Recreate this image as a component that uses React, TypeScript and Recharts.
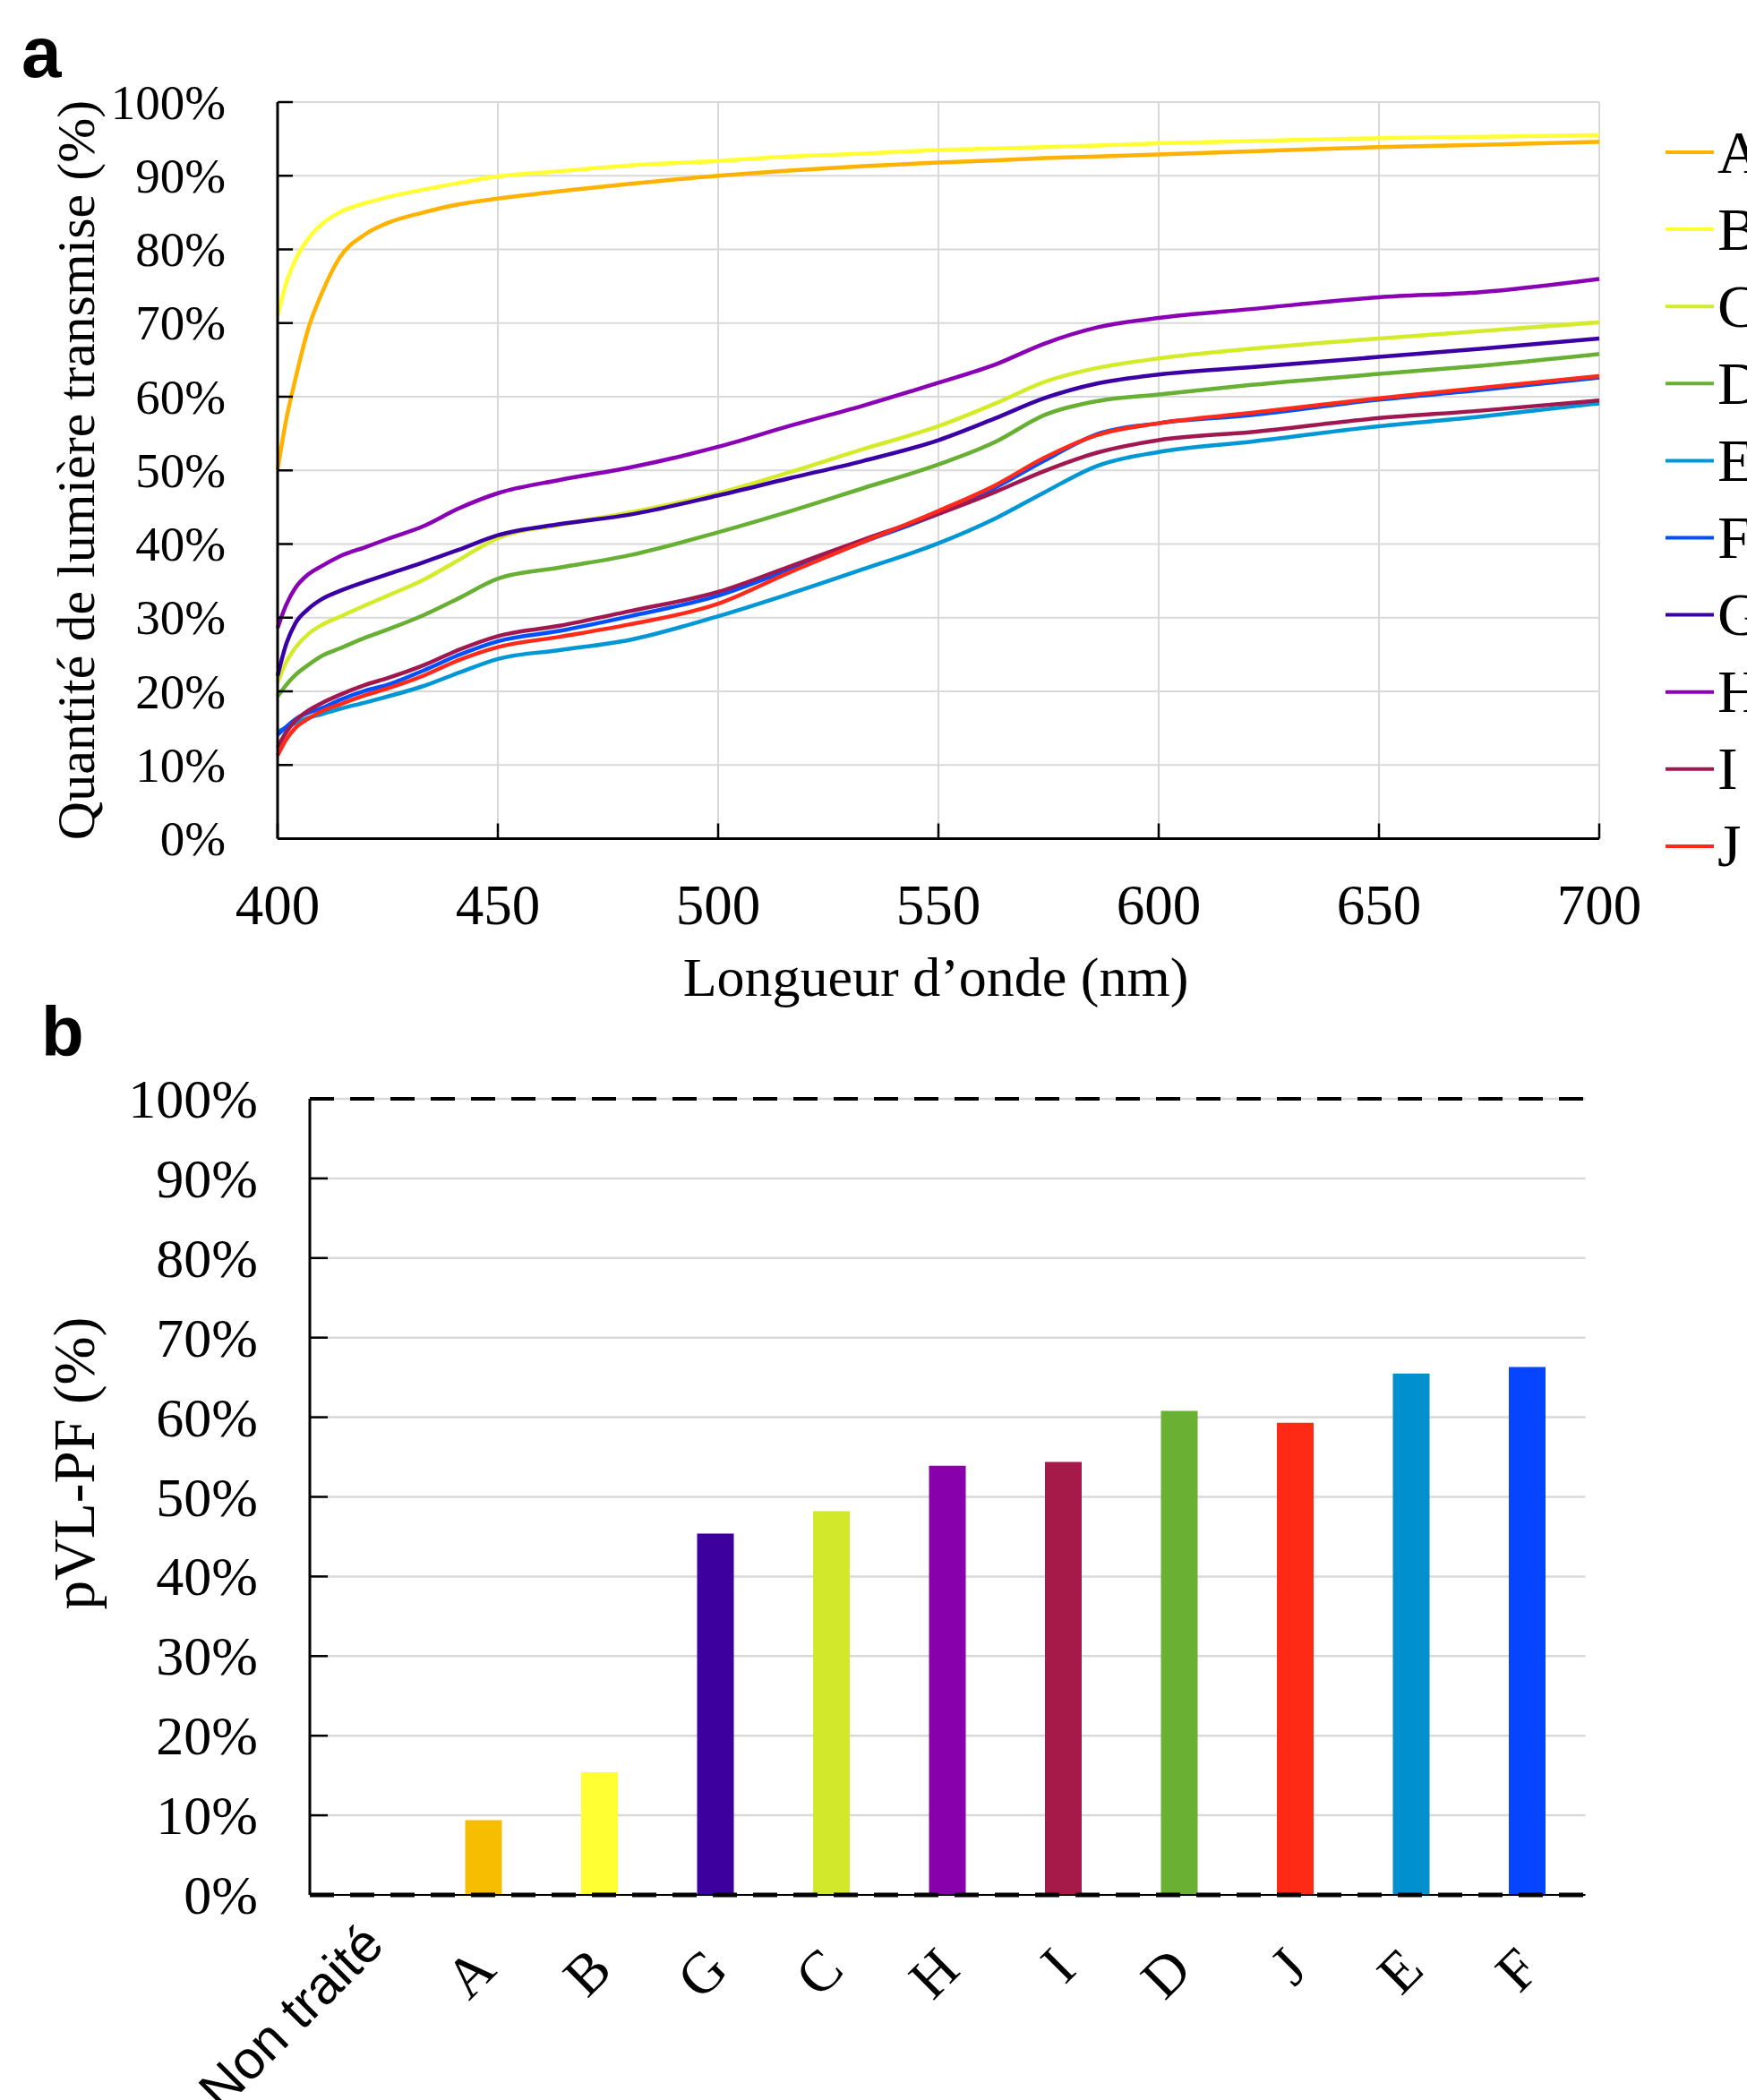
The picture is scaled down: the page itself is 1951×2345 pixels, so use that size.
import React from 'react';
import {
  LineChart, Line, XAxis, YAxis, CartesianGrid, Legend, Label,
  BarChart, Bar, Cell, ReferenceLine,
} from 'recharts';

const SERIF = '"Liberation Serif", "Times New Roman", serif';
const SANS = '"Liberation Sans", Arial, sans-serif';

// ---------- Panel a : transmission spectra ----------
const wavelengths = [400, 402, 404, 407, 410, 414, 420, 425, 433, 441, 450, 464, 480, 500, 516, 533, 550, 563, 574, 586, 600, 621, 650, 673, 700];

const seriesA = [50.1, 57.0, 62.3, 69.3, 74.0, 78.8, 82.1, 83.6, 85.0, 86.1, 86.9, 87.9, 88.9, 90.0, 90.7, 91.3, 91.8, 92.1, 92.4, 92.6, 92.9, 93.3, 93.9, 94.2, 94.6];
const seriesB = [71.0, 75.5, 78.5, 81.5, 83.4, 85.0, 86.3, 87.1, 88.1, 89.0, 89.9, 90.6, 91.4, 92.0, 92.6, 93.0, 93.5, 93.7, 93.9, 94.1, 94.4, 94.7, 95.1, 95.3, 95.5];
const seriesC = [21.2, 24.0, 25.9, 27.8, 29.0, 30.1, 31.7, 33.0, 35.1, 37.8, 40.8, 42.6, 44.3, 46.9, 49.7, 52.9, 56.0, 59.1, 62.0, 63.9, 65.2, 66.5, 67.9, 68.9, 70.1];
const seriesD = [19.3, 20.9, 22.2, 23.6, 24.8, 25.8, 27.3, 28.4, 30.3, 32.6, 35.3, 36.8, 38.5, 41.6, 44.4, 47.6, 50.8, 53.9, 57.5, 59.4, 60.3, 61.6, 63.1, 64.2, 65.8];
const seriesE = [14.5, 15.1, 15.7, 16.4, 16.9, 17.6, 18.5, 19.3, 20.7, 22.5, 24.4, 25.6, 27.0, 30.2, 33.2, 36.6, 40.1, 43.5, 47.0, 50.6, 52.5, 53.9, 56.0, 57.3, 59.1];
const seriesF = [14.1, 15.2, 16.2, 17.1, 17.7, 18.8, 20.1, 20.9, 22.8, 24.9, 26.8, 28.2, 30.2, 33.0, 36.5, 40.3, 44.1, 47.7, 51.3, 54.9, 56.4, 57.5, 59.6, 60.9, 62.6];
const seriesG = [22.1, 26.5, 29.2, 31.2, 32.5, 33.6, 34.9, 35.9, 37.5, 39.2, 41.2, 42.7, 44.0, 46.6, 48.9, 51.3, 54.1, 57.1, 59.8, 61.8, 63.0, 64.0, 65.4, 66.5, 67.9];
const seriesH = [28.6, 31.8, 34.0, 35.9, 37.0, 38.3, 39.6, 40.7, 42.4, 44.8, 46.9, 48.7, 50.4, 53.2, 56.0, 58.8, 61.9, 64.4, 67.2, 69.4, 70.7, 71.9, 73.5, 74.2, 76.0];
const seriesI = [12.4, 14.5, 16.0, 17.4, 18.4, 19.5, 20.9, 21.8, 23.5, 25.6, 27.5, 28.9, 30.9, 33.5, 36.9, 40.6, 44.1, 47.1, 49.9, 52.4, 54.1, 55.2, 57.1, 58.1, 59.5];
const seriesJ = [11.3, 13.5, 15.0, 16.3, 17.3, 18.2, 19.5, 20.4, 22.1, 24.2, 26.0, 27.4, 29.1, 31.9, 36.1, 40.3, 44.5, 48.0, 51.7, 54.8, 56.4, 57.8, 59.8, 61.2, 62.8];

const lineNames = ['A', 'B', 'C', 'D', 'E', 'F', 'G', 'H', 'I', 'J'];
const lineColors = ['#FFB300', '#FFFF33', '#D4EB2A', '#67B033', '#0097D6', '#0050FF', '#3A00A5', '#8A00B4', '#A11850', '#FF2A1A'];
const lineSeries = [seriesA, seriesB, seriesC, seriesD, seriesE, seriesF, seriesG, seriesH, seriesI, seriesJ];

const lineXTicks = [400, 450, 500, 550, 600, 650, 700];
const percentTicks = [0, 10, 20, 30, 40, 50, 60, 70, 80, 90, 100];

const lineData = wavelengths.map((nm, i) => {
  const row: Record<string, number> = { nm };
  lineNames.forEach((n, k) => { row[n] = lineSeries[k][i]; });
  return row;
});

// ---------- Panel b : pVL-PF bars ----------
const barCategories = ['Non traité', 'A', 'B', 'G', 'C', 'H', 'I', 'D', 'J', 'E', 'F'];
const barValues = [0, 9.4, 15.4, 45.4, 48.2, 53.9, 54.4, 60.8, 59.3, 65.5, 66.3];
const barColors = ['#FFFFFF', '#F7BD00', '#FFFF33', '#3D009E', '#D2E92B', '#8700AB', '#A61A4A', '#69B033', '#FF2A16', '#0090CE', '#0545FF'];

const barData = barCategories.map((name, i) => ({ name, value: barValues[i] }));

// ---------- geometry ----------
const A_LEFT = 310, A_RIGHT = 1786, A_TOP = 114, A_BOTTOM = 936.5, A_H = 1160;
const B_TOP_PAGE = 1100, B_H = 1245;
const B_LEFT = 346, B_RIGHT = 1770.5, B_TOP = 127, B_BOTTOM = 1016;
const AX = 1; // axis band thickness

const LineYTick = (props: any) => {
  const { x, y, payload } = props;
  return (
    <g>
      <line x1={x} x2={x + 17} y1={y} y2={y} stroke="#000" strokeWidth={2.5} />
      <text x={x - 58} y={y} textAnchor="end" dominantBaseline="central" fontFamily={SERIF} fontSize={55} fill="#000">
        {payload.value}%
      </text>
    </g>
  );
};

const LineXTick = (props: any) => {
  const { x, y, payload } = props;
  return (
    <g>
      <line x1={x} x2={x} y1={y} y2={y - 17} stroke="#000" strokeWidth={2.5} />
      <text x={x} y={y + 95.5} textAnchor="middle" fontFamily={SERIF} fontSize={63} fill="#000">
        {payload.value}
      </text>
    </g>
  );
};

const BarYTick = (props: any) => {
  const { x, y, payload } = props;
  return (
    <g>
      <line x1={x} x2={x + 20} y1={y} y2={y} stroke="#000" strokeWidth={2.5} />
      <text x={x - 58} y={y} textAnchor="end" dominantBaseline="central" fontFamily={SERIF} fontSize={62} fill="#000">
        {payload.value}%
      </text>
    </g>
  );
};

const BarXTick = (props: any) => {
  const { x, y, payload } = props;
  const sans = payload.value === 'Non traité';
  const px = sans ? x + 6 : x + 1;
  const py = sans ? y + 44 : y + 71;
  return (
    <text
      x={px}
      y={py}
      textAnchor="end"
      dominantBaseline="central"
      transform={`rotate(-45 ${px} ${py})`}
      fontFamily={sans ? SANS : SERIF}
      fontSize={sans ? 60 : 64}
      fill="#000"
    >
      {payload.value}
    </text>
  );
};

const renderLegend = (props: any) => {
  const items = props.payload || [];
  return (
    <svg width={95} height={900} style={{ display: 'block' }}>
      {items.map((it: any, i: number) => {
        const cy = 70 + i * 86.1;
        return (
          <g key={String(it.value)}>
            <line x1={4} x2={58} y1={cy} y2={cy} stroke={it.color} strokeWidth={4} />
            <text x={62} y={cy + 22.5} fontFamily={SERIF} fontSize={68} fill="#000">{it.value}</text>
          </g>
        );
      })}
    </svg>
  );
};

export default function App() {
  return (
    <div style={{ position: 'absolute', left: 0, top: 0, width: 1951, height: 2345, background: '#fff', overflow: 'hidden' }}>
      {/* Panel a */}
      <div style={{ position: 'absolute', left: 0, top: 0 }}>
        <LineChart
          width={1951}
          height={A_H}
          data={lineData}
          margin={{ top: A_TOP, right: 1951 - A_RIGHT, bottom: A_H - A_BOTTOM - AX, left: A_LEFT - AX }}
        >
          <CartesianGrid stroke="#D9D9D9" strokeWidth={2} />
          <XAxis
            dataKey="nm"
            type="number"
            domain={[400, 700]}
            ticks={lineXTicks}
            interval={0}
            height={AX}
            tickSize={0}
            tickMargin={0}
            tickLine={false}
            axisLine={{ stroke: '#000', strokeWidth: 3 }}
            tick={<LineXTick />}
          >
            <Label
              content={() => (
                <text x={(A_LEFT + A_RIGHT) / 2 - 3} y={1112} textAnchor="middle" fontFamily={SERIF} fontSize={62} fill="#000">
                  Longueur d’onde (nm)
                </text>
              )}
            />
          </XAxis>
          <YAxis
            type="number"
            domain={[0, 100]}
            ticks={percentTicks}
            interval={0}
            width={AX}
            tickSize={0}
            tickMargin={0}
            tickLine={false}
            axisLine={{ stroke: '#000', strokeWidth: 3 }}
            tick={<LineYTick />}
          >
            <Label
              content={() => (
                <text x={105} y={525} transform="rotate(-90 105 525)" textAnchor="middle" fontFamily={SERIF} fontSize={60} fill="#000">
                  Quantité de lumière transmise (%)
                </text>
              )}
            />
          </YAxis>
          <Legend
            layout="vertical"
            align="center"
            verticalAlign="middle"
            content={renderLegend}
            wrapperStyle={{ position: 'absolute', left: 1856, top: 100, width: 95, height: 900 }}
          />
          {lineNames.map((n, k) => (
            <Line
              key={n}
              dataKey={n}
              name={n}
              type="monotone"
              stroke={lineColors[k]}
              strokeWidth={4.5}
              dot={false}
              activeDot={false}
              isAnimationActive={false}
            />
          ))}
        </LineChart>
      </div>

      {/* Panel b */}
      <div style={{ position: 'absolute', left: 0, top: B_TOP_PAGE }}>
        <BarChart
          width={1951}
          height={B_H}
          data={barData}
          margin={{ top: B_TOP, right: 1951 - B_RIGHT, bottom: B_H - B_BOTTOM - AX, left: B_LEFT - AX }}
        >
          <CartesianGrid stroke="#D9D9D9" strokeWidth={2.5} vertical={false} />
          <XAxis
            dataKey="name"
            type="category"
            interval={0}
            height={AX}
            tickSize={0}
            tickMargin={0}
            tickLine={false}
            axisLine={{ stroke: '#000', strokeWidth: 2 }}
            tick={<BarXTick />}
          />
          <YAxis
            type="number"
            domain={[0, 100]}
            ticks={percentTicks}
            interval={0}
            width={AX}
            tickSize={0}
            tickMargin={0}
            tickLine={false}
            axisLine={{ stroke: '#000', strokeWidth: 3 }}
            tick={<BarYTick />}
          >
            <Label
              content={() => (
                <text x={105} y={534} transform="rotate(-90 105 534)" textAnchor="middle" fontFamily={SERIF} fontSize={65} fill="#000">
                  pVL-PF (%)
                </text>
              )}
            />
          </YAxis>
          <Bar dataKey="value" barSize={41} isAnimationActive={false}>
            {barData.map((d, i) => (
              <Cell key={d.name} fill={barColors[i]} />
            ))}
          </Bar>
          <ReferenceLine y={100} stroke="#000" strokeWidth={4} strokeDasharray="27 18" />
          <ReferenceLine y={0} stroke="#000" strokeWidth={5} strokeDasharray="27 18" />
        </BarChart>
      </div>

      {/* Panel letters */}
      <svg width={1951} height={2345} style={{ position: 'absolute', left: 0, top: 0, pointerEvents: 'none' }}>
        <text x={24} y={86} fontFamily={SANS} fontWeight="bold" fontSize={80} fill="#000">a</text>
        <text x={46} y={1179} fontFamily={SANS} fontWeight="bold" fontSize={78} fill="#000">b</text>
      </svg>
    </div>
  );
}
